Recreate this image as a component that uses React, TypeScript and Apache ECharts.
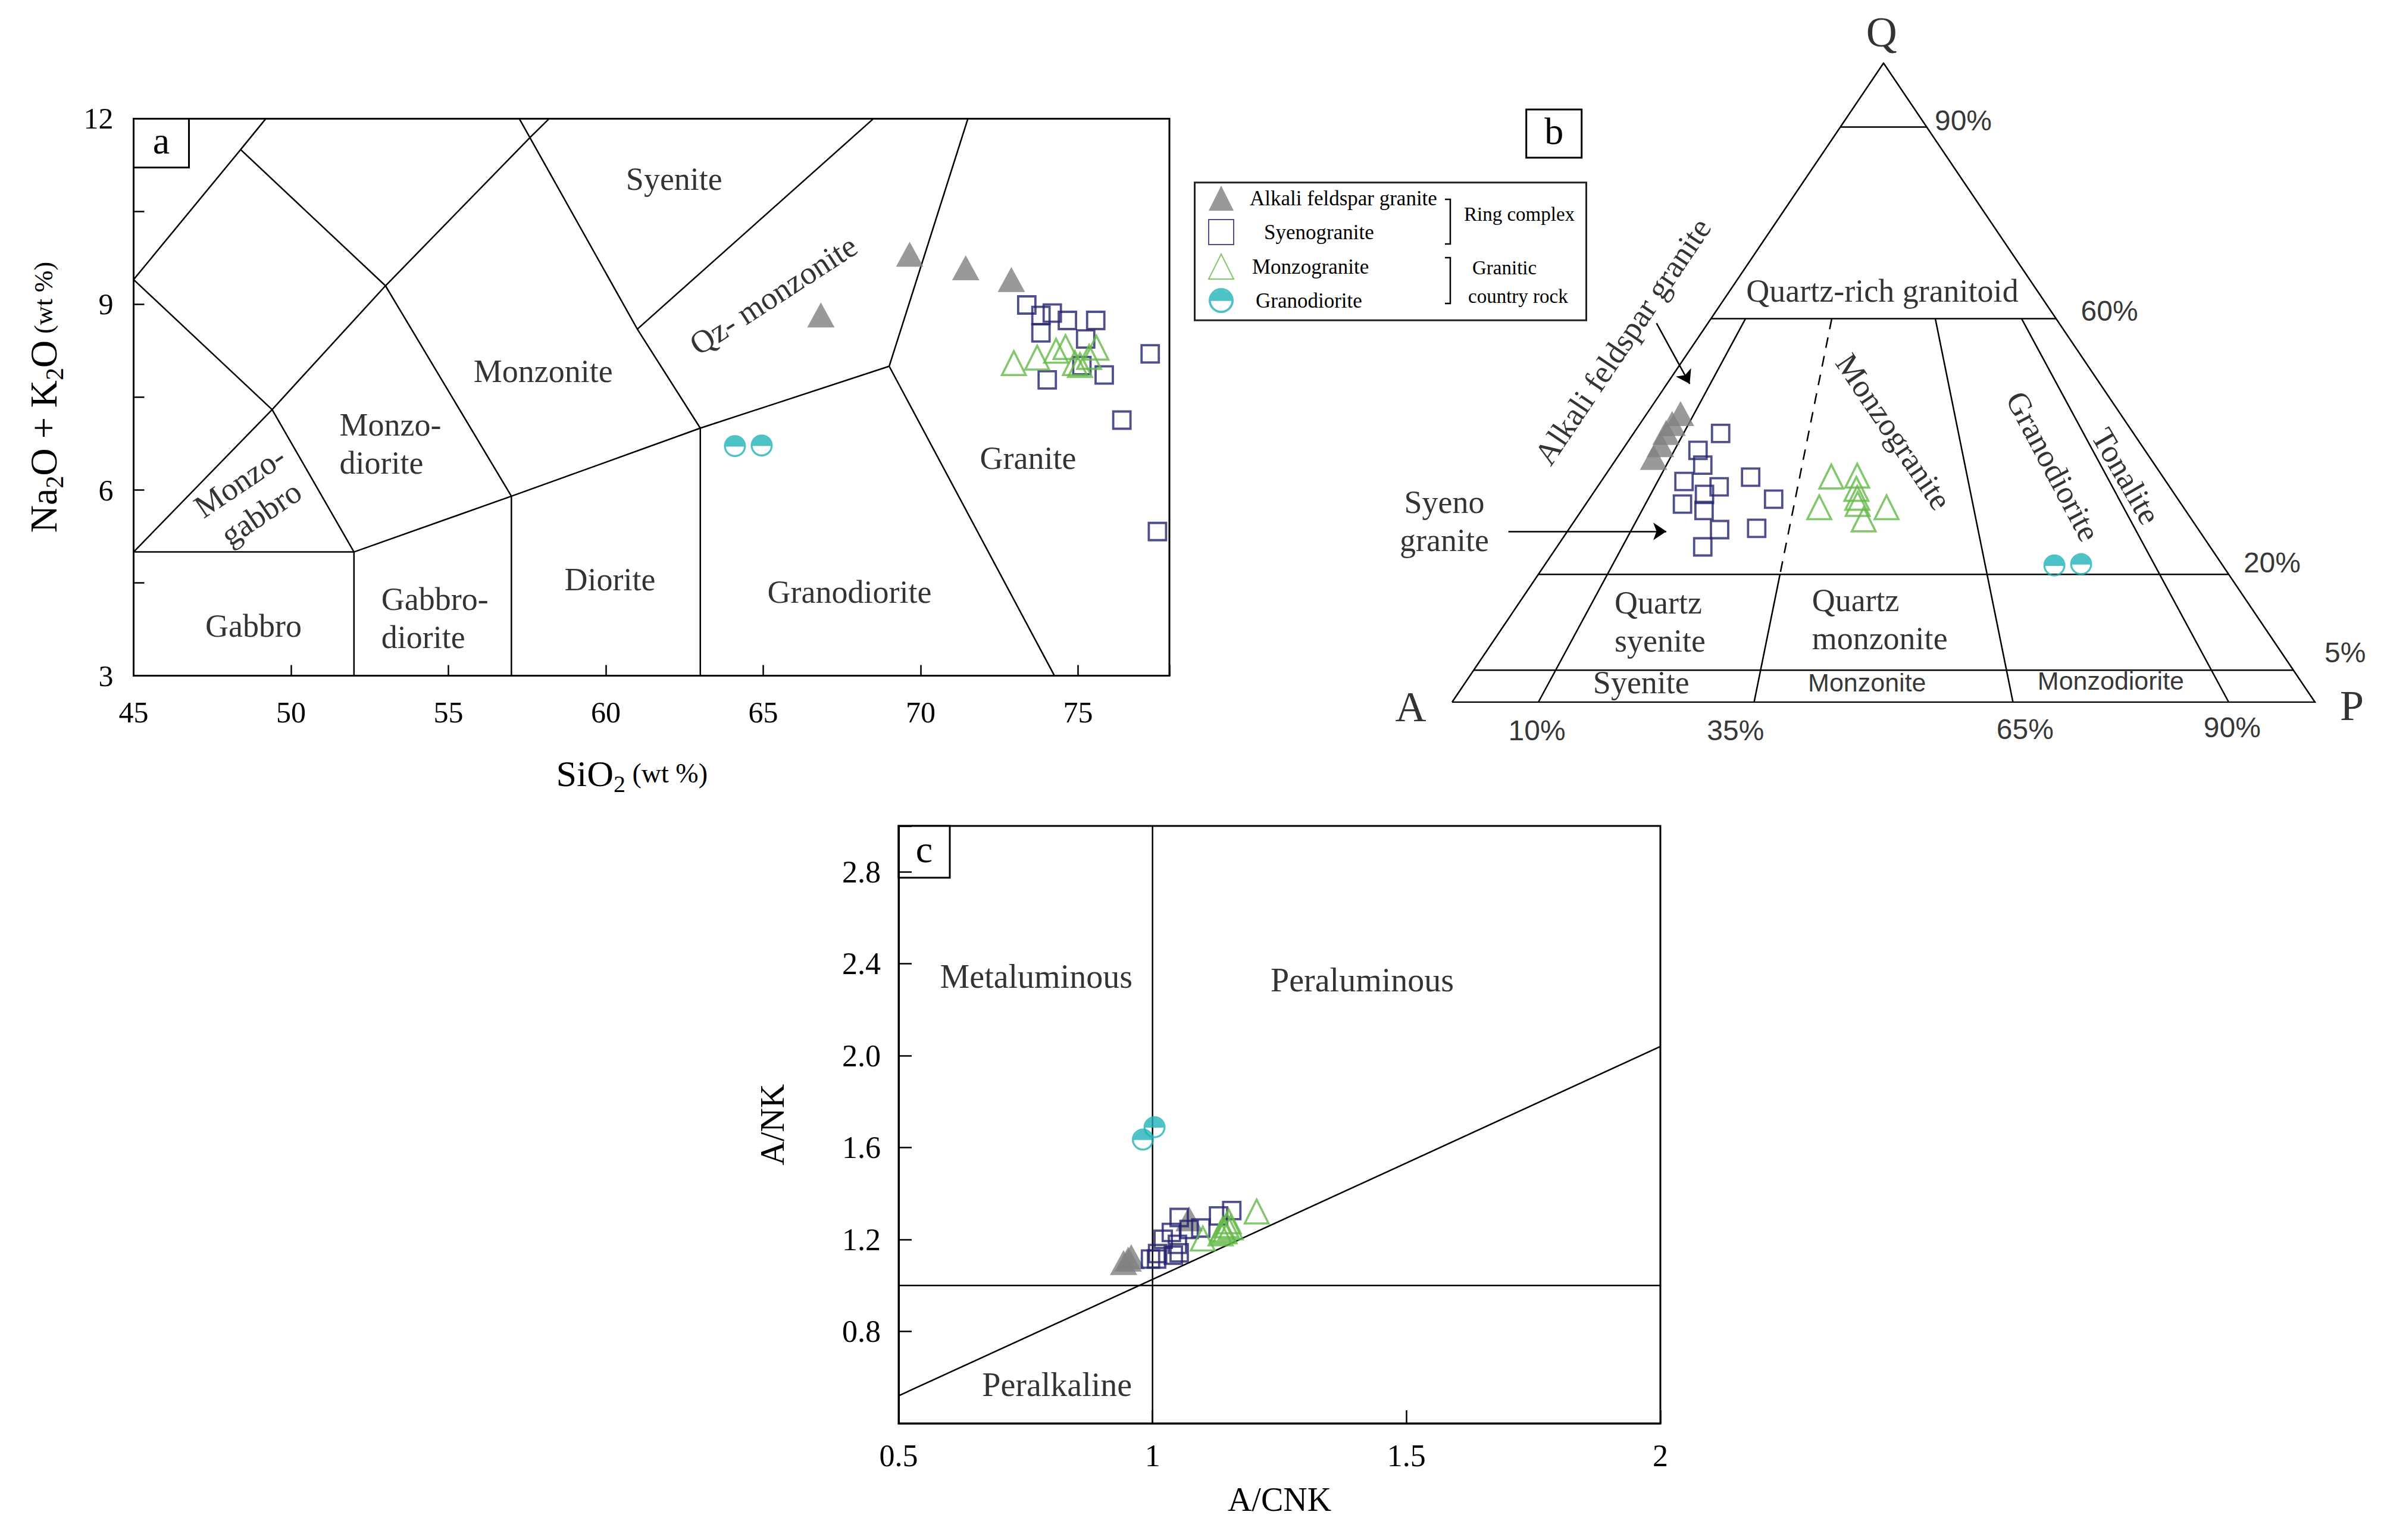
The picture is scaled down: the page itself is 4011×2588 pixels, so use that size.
import React, { useEffect, useRef } from "react";
import * as echarts from "echarts";

const SERIF = "Liberation Serif";
const SANS = "Liberation Sans";
const GRAY = "#7f7f7f";
const NAVY = "#23236f";
const GREEN = "#63b946";
const CYAN = "#1fb3b8";

const groupNames = ["Alkali feldspar granite", "Syenogranite", "Monzogranite", "Granodiorite"];

// ---------- a: TAS diagram [SiO2 wt%, Na2O+K2O wt%] ----------
const tasAlkaliFeldsparGranite = [[66.83, 8.83], [69.65, 9.81], [71.43, 9.59], [72.88, 9.4]];
const tasSyenogranite = [
  [73.37, 8.99], [73.82, 8.82], [74.18, 8.86], [73.82, 8.54], [74.66, 8.74], [75.56, 8.74], [75.24, 8.44],
  [75.12, 8.01], [75.83, 7.86], [74.02, 7.78], [77.29, 8.2], [76.39, 7.13], [77.52, 5.33],
];
const tasMonzogranite = [
  [72.96, 8.05], [73.7, 8.14], [74.3, 8.25], [74.6, 8.31], [74.9, 8.05], [75.06, 8.02], [75.58, 8.3], [75.35, 8.15],
];
const tasGranodiorite = [[64.1, 6.71], [64.95, 6.72]];
const tasBoundaries = [
  [[45, 9.4], [48.4, 11.5], [49.2, 12]],
  [[48.4, 11.5], [53, 9.3]],
  [[45, 9.4], [49.4, 7.3]],
  [[45, 5], [49.4, 7.3], [53, 9.3], [57.6, 11.7], [58.2, 12]],
  [[49.4, 7.3], [52, 5]],
  [[45, 5], [52, 5], [57, 5.9], [63, 7], [69, 8]],
  [[52, 3], [52, 5]],
  [[57, 3], [57, 5.9]],
  [[53, 9.3], [57, 5.9]],
  [[57.25, 12], [61, 8.6], [63, 7]],
  [[61, 8.6], [68.5, 12]],
  [[63, 3], [63, 7]],
  [[69, 8], [71.5, 12]],
  [[69, 8], [74.25, 3]],
];
const tasXTicks = [45, 50, 55, 60, 65, 70, 75];
const tasYTicks = [3, 6, 9, 12];
const tasFields = [
  "Gabbro", "Gabbro-\ndiorite", "Monzo-\ndiorite", "Monzo-\ngabbro", "Monzonite",
  "Syenite", "Qz- monzonite", "Diorite", "Granodiorite", "Granite",
];

// ---------- b: QAP modal data [Q, A, P] ----------
const qapAlkaliFeldsparGranite = [[45.2, 51.0, 3.9], [43.6, 52.7, 3.7], [42.2, 54.1, 3.7], [40.3, 55.7, 4.0], [38.3, 57.5, 4.2]];
const qapSyenogranite = [
  [42.1, 47.9, 10.1], [39.4, 51.8, 8.8], [37.1, 52.4, 10.5], [34.5, 55.8, 9.6], [33.7, 52.2, 14.1],
  [35.2, 47.8, 17.0], [32.5, 54.5, 13.0], [31.0, 57.8, 11.2], [30.0, 55.8, 14.2], [31.8, 46.9, 21.4],
  [27.0, 55.5, 17.5], [27.2, 51.1, 21.7], [24.3, 58.8, 16.9],
];
const qapMonzogranite = [
  [35.3, 38.4, 26.3], [35.4, 35.3, 29.2], [30.5, 42.2, 27.3], [33.4, 36.5, 30.2], [32.0, 37.1, 31.0],
  [31.0, 37.5, 31.5], [30.5, 34.4, 35.1], [28.6, 38.0, 33.4],
];
const qapGranodiorite = [[21.4, 19.5, 59.1], [21.6, 16.3, 62.1]];
const qLevels = [90, 60, 20, 5]; // Q %
const apRatios = [10, 35, 65, 90]; // 100*P/(A+P)
const qapFields = [
  "Quartz-rich granitoid", "Alkali feldspar granite", "Syeno\ngranite", "Monzogranite", "Granodiorite",
  "Tonalite", "Quartz\nsyenite", "Quartz\nmonzonite", "Syenite", "Monzonite", "Monzodiorite",
];

// ---------- c: A/CNK vs A/NK ----------
const acnkAlkaliFeldsparGranite = [[0.943, 1.1], [0.952, 1.115], [0.958, 1.125], [1.072, 1.29]];
const acnkSyenogranite = [
  [1.0525, 1.296], [1.13, 1.303], [1.156, 1.326], [1.095, 1.25], [1.037, 1.231], [1.021, 1.201], [1.049, 1.179],
  [1.0525, 1.142], [1.01, 1.139], [0.996, 1.115], [1.008, 1.115], [1.041, 1.132], [1.072, 1.244],
];
const acnkMonzogranite = [
  [1.099, 1.204], [1.205, 1.322], [1.138, 1.244], [1.146, 1.262], [1.142, 1.236], [1.15, 1.279], [1.154, 1.253], [1.134, 1.227],
];
const acnkGranodiorite = [[0.981, 1.635], [1.004, 1.689]];
const acnkBoundaries = [
  [[1, 0.4], [1, 3.0]],
  [[0.5, 1], [2, 1]],
  [[0.5, 0.52], [2, 2.04]],
];
const acnkFields = ["Metaluminous", "Peraluminous", "Peralkaline"];

// ---------- helpers ----------
const tern = (q: number, a: number, p: number) => {
  const s = q + a + p;
  const Q = q / s;
  const P = p / s;
  return [P + Q / 2, Q];
};
const ternAt = (qPct: number, rPct: number) => {
  const q = qPct / 100;
  const r = rPct / 100;
  return [(1 - q) * r + q / 2, q];
};

const halfCircle =
  "path://M50,0 A50,50 0 1,1 50,100 A50,50 0 1,1 50,0 Z M50,9 A41,41 0 1,0 50,91 A41,41 0 1,0 50,9 Z M9.05,52 A41,41 0 1,1 90.95,52 Z";

const groupStyles: any[] = [
  { symbol: "triangle", size: [46, 42], itemStyle: { color: GRAY } },
  { symbol: "rect", size: 29, itemStyle: { color: "rgba(0,0,0,0)", borderColor: NAVY, borderWidth: 3.8 } },
  { symbol: "triangle", size: [40, 40], itemStyle: { color: "rgba(0,0,0,0)", borderColor: GREEN, borderWidth: 3.6 } },
  { symbol: halfCircle, size: 37, itemStyle: { color: CYAN } },
];

function pointSeries(idx: number, groups: number[][][]) {
  return groups.map((data, g) => ({
    type: "scatter",
    name: groupNames[g],
    xAxisIndex: idx,
    yAxisIndex: idx,
    symbol: groupStyles[g].symbol,
    symbolSize: groupStyles[g].size,
    itemStyle: groupStyles[g].itemStyle,
    silent: true,
    z: 5 + g,
    data,
  }));
}

function lineSeries(idx: number, polylines: number[][][], dashed = false) {
  return {
    type: "lines",
    coordinateSystem: "cartesian2d",
    xAxisIndex: idx,
    yAxisIndex: idx,
    polyline: true,
    silent: true,
    z: 3,
    lineStyle: { color: "#000", width: 2.5, opacity: 1, type: dashed ? [18, 14] : "solid" },
    data: polylines.map((c) => ({ coords: c })),
  };
}

function arrowSeries(idx: number, segs: number[][][]) {
  return {
    type: "lines",
    coordinateSystem: "cartesian2d",
    xAxisIndex: idx,
    yAxisIndex: idx,
    silent: true,
    z: 3,
    symbol: ["none", "arrow"],
    symbolSize: 22,
    lineStyle: { color: "#000", width: 2.5, opacity: 1 },
    data: segs.map((c) => ({ coords: c })),
  };
}

function labelSeries(idx: number, items: any[], fontSize: number) {
  return {
    type: "scatter",
    xAxisIndex: idx,
    yAxisIndex: idx,
    symbolSize: 1,
    silent: true,
    clip: false,
    z: 4,
    itemStyle: { color: "rgba(0,0,0,0)" },
    label: { show: true, position: "inside", color: "#000", fontFamily: SERIF, fontSize, lineHeight: 64 },
    data: items.map((it) => ({
      value: [it.x, it.y],
      label: {
        formatter: it.text,
        rotate: it.rotate || 0,
        align: it.align || "center",
        fontSize: it.size || fontSize,
        fontFamily: it.family || SERIF,
      },
    })),
  };
}

function panelBox(x: number, y: number, w: number, h: number, t: string) {
  return {
    type: "group",
    z: 20,
    children: [
      { type: "rect", shape: { x, y, width: w, height: h }, style: { fill: "#fff", stroke: "#000", lineWidth: 3 } },
      {
        type: "text",
        x: x + w / 2,
        y: y + h / 2 - 4,
        style: { text: t, fontSize: 64, fontFamily: SERIF, fill: "#000", align: "center", verticalAlign: "middle" },
      },
    ],
  };
}

function buildOption(): any {
  // --- panel a annotations (data coords) ---
  const tasLabels = [
    { text: tasFields[0], x: 48.81, y: 3.8 },
    { text: tasFields[1], x: 52.87, y: 3.93, align: "left" },
    { text: tasFields[2], x: 51.54, y: 6.745, align: "left" },
    { text: tasFields[3], x: 48.71, y: 5.88, rotate: 34 },
    { text: tasFields[4], x: 58.01, y: 7.92 },
    { text: tasFields[5], x: 62.17, y: 11.02 },
    { text: tasFields[6], x: 65.32, y: 9.15, rotate: 33 },
    { text: tasFields[7], x: 60.13, y: 4.55 },
    { text: tasFields[8], x: 67.74, y: 4.35 },
    { text: tasFields[9], x: 73.41, y: 6.51 },
  ];

  // --- panel b geometry ---
  const triOutline = [[0, 0], [1, 0], [0.5, 1], [0, 0]];
  const qapSolid: number[][][] = [triOutline];
  qLevels.forEach((q) => qapSolid.push([ternAt(q, 0), ternAt(q, 100)]));
  const qapDashed: number[][][] = [];
  apRatios.forEach((r) => {
    if (r === 35) {
      qapDashed.push([ternAt(60, r), ternAt(20, r)]);
      qapSolid.push([ternAt(20, r), ternAt(0, r)]);
    } else {
      qapSolid.push([ternAt(60, r), ternAt(0, r)]);
    }
  });
  const qapArrows = [
    [[0.2369, 0.593], [0.2754, 0.4981]],
    [[0.0652, 0.2672], [0.2483, 0.2672]],
  ];
  const qapLabels = [
    { text: "Q", x: 0.4978, y: 1.0485, size: 72 },
    { text: "A", x: -0.048, y: -0.0076, size: 72 },
    { text: "P", x: 1.0428, y: -0.0053, size: 72 },
    { text: qapFields[0], x: 0.4986, y: 0.6434 },
    { text: qapFields[1], x: 0.1977, y: 0.5645, rotate: 56 },
    { text: qapFields[2], x: -0.009, y: 0.283 },
    { text: qapFields[3], x: 0.5117, y: 0.4232, rotate: -56 },
    { text: qapFields[4], x: 0.6964, y: 0.3691, rotate: -62 },
    { text: qapFields[5], x: 0.781, y: 0.3536, rotate: -60 },
    { text: qapFields[6], x: 0.1883, y: 0.1259, align: "left" },
    { text: qapFields[7], x: 0.417, y: 0.1298, align: "left" },
    { text: qapFields[8], x: 0.2192, y: 0.0309 },
    { text: qapFields[9], x: 0.4809, y: 0.0309, size: 43, family: SANS },
    { text: qapFields[10], x: 0.7634, y: 0.0332, size: 43, family: SANS },
    { text: `${qLevels[0]}%`, x: 0.5924, y: 0.9097, size: 48, family: SANS },
    { text: `${qLevels[1]}%`, x: 0.7618, y: 0.6123, size: 48, family: SANS },
    { text: `${qLevels[2]}%`, x: 0.9503, y: 0.2185, size: 48, family: SANS },
    { text: `${qLevels[3]}%`, x: 1.035, y: 0.078, size: 48, family: SANS },
    { text: `${apRatios[0]}%`, x: 0.0983, y: -0.044, size: 48, family: SANS },
    { text: `${apRatios[1]}%`, x: 0.3285, y: -0.044, size: 48, family: SANS },
    { text: `${apRatios[2]}%`, x: 0.664, y: -0.042, size: 48, family: SANS },
    { text: `${apRatios[3]}%`, x: 0.904, y: -0.04, size: 48, family: SANS },
  ];
  const toTern = (arr: number[][]) => arr.map((d) => tern(d[0], d[1], d[2]));

  // --- panel c annotations ---
  const acnkLabels = [
    { text: acnkFields[0], x: 0.771, y: 2.344 },
    { text: acnkFields[1], x: 1.413, y: 2.33 },
    { text: acnkFields[2], x: 0.812, y: 0.569 },
  ];

  const axisLine = { show: true, lineStyle: { color: "#000", width: 3 } };
  const tick = (len: number) => ({ show: true, inside: true, length: len, lineStyle: { color: "#000", width: 2.5 } });
  const lbl = (size: number, margin: number, formatter: any) => ({
    show: true, color: "#000", fontFamily: SERIF, fontSize: size, margin, formatter,
  });

  return {
    animation: false,
    backgroundColor: "#fff",
    grid: [
      { left: 224.5, top: 199.4, width: 1740.5, height: 936.2, show: true, borderColor: "#000", borderWidth: 3, backgroundColor: "transparent", outerBoundsMode: "none" },
      { left: 2440, top: 106, width: 1450, height: 1074, show: false, outerBoundsMode: "none" },
      { left: 1510, top: 1388, width: 1280, height: 1004, show: true, borderColor: "#000", borderWidth: 3, backgroundColor: "transparent", outerBoundsMode: "none" },
    ],
    xAxis: [
      {
        type: "value", gridIndex: 0, min: 45, max: 77.9, interval: 5,
        axisLine, axisTick: tick(18), splitLine: { show: false },
        axisLabel: lbl(50, 36, (v: number) => (tasXTicks.includes(v) ? String(v) : "")),
        name: "{m|SiO}{s|2}{w| (wt %)}", nameLocation: "middle", nameGap: 126,
        nameTextStyle: {
          padding: [0, 66, 0, 0],
          rich: {
            m: { fontFamily: SERIF, fontSize: 62, color: "#000" },
            s: { fontFamily: SERIF, fontSize: 40, color: "#000", padding: [36, 0, 0, 0] },
            w: { fontFamily: SERIF, fontSize: 46, color: "#000" },
          },
        },
      },
      { type: "value", gridIndex: 1, min: 0, max: 1, show: false },
      {
        type: "value", gridIndex: 2, min: 0.5, max: 2, interval: 0.5,
        axisLine, axisTick: tick(22), splitLine: { show: false },
        axisLabel: lbl(52, 28, (v: number) => String(v)),
        name: "A/CNK", nameLocation: "middle", nameGap: 100,
        nameTextStyle: { fontFamily: SERIF, fontSize: 56, color: "#000" },
      },
    ],
    yAxis: [
      {
        type: "value", gridIndex: 0, min: 3, max: 12, interval: 1.5,
        axisLine, axisTick: tick(18), splitLine: { show: false },
        axisLabel: lbl(50, 34, (v: number) => (tasYTicks.includes(v) ? String(v) : "")),
        name: "{m|Na}{s|2}{m|O + K}{s|2}{m|O}{w| (wt %)}", nameLocation: "middle", nameRotate: 90, nameGap: 112,
        nameTextStyle: {
          rich: {
            m: { fontFamily: SERIF, fontSize: 64, color: "#000" },
            s: { fontFamily: SERIF, fontSize: 42, color: "#000", padding: [36, 0, 0, 0] },
            w: { fontFamily: SERIF, fontSize: 44, color: "#000" },
          },
        },
      },
      { type: "value", gridIndex: 1, min: 0, max: 1, show: false },
      {
        type: "value", gridIndex: 2, min: 0.4, max: 3.0, interval: 0.4,
        axisLine, axisTick: tick(22), splitLine: { show: false },
        axisLabel: lbl(52, 30, (v: number) => (v < 0.6 || v > 2.9 ? "" : v.toFixed(1))),
        name: "A/NK", nameLocation: "middle", nameRotate: 90, nameGap: 184,
        nameTextStyle: { fontFamily: SERIF, fontSize: 56, color: "#000" },
      },
    ],
    legend: {
      orient: "vertical", left: 2030, top: 312, padding: 0, itemGap: 14, itemWidth: 42, itemHeight: 42,
      selectedMode: false,
      textStyle: { fontFamily: SERIF, fontSize: 35, color: "#000" },
      data: [
        { name: groupNames[0], textStyle: { padding: [0, 0, 0, 22] } },
        { name: groupNames[1], textStyle: { padding: [0, 0, 0, 46] } },
        { name: groupNames[2], textStyle: { padding: [0, 0, 0, 26] } },
        { name: groupNames[3], textStyle: { padding: [0, 0, 0, 32] } },
      ],
    },
    graphic: {
      elements: [
        panelBox(224.5, 199.4, 93, 82, "a"),
        panelBox(2564.7, 184, 93, 81, "b"),
        panelBox(1510, 1388, 86, 87, "c"),
        { type: "rect", z: 1, shape: { x: 2007.5, y: 306.7, width: 658, height: 231.6 }, style: { fill: "none", stroke: "#222", lineWidth: 3 } },
        { type: "polyline", shape: { points: [[2428, 335], [2437, 335], [2437, 410], [2428, 410]] }, style: { stroke: "#000", lineWidth: 2.5, fill: "none" } },
        { type: "polyline", shape: { points: [[2428, 433], [2437, 433], [2437, 510], [2428, 510]] }, style: { stroke: "#000", lineWidth: 2.5, fill: "none" } },
        { type: "text", x: 2460, y: 360, style: { text: "Ring complex", fontSize: 33, fontFamily: SERIF, fill: "#000", align: "left", verticalAlign: "middle" } },
        { type: "text", x: 2474, y: 450, style: { text: "Granitic", fontSize: 33, fontFamily: SERIF, fill: "#000", align: "left", verticalAlign: "middle" } },
        { type: "text", x: 2467, y: 498, style: { text: "country rock", fontSize: 33, fontFamily: SERIF, fill: "#000", align: "left", verticalAlign: "middle" } },
      ],
    },
    series: [
      // panel a
      lineSeries(0, tasBoundaries),
      labelSeries(0, tasLabels, 54),
      ...pointSeries(0, [tasAlkaliFeldsparGranite, tasSyenogranite, tasMonzogranite, tasGranodiorite]),
      // panel b
      lineSeries(1, qapSolid),
      lineSeries(1, qapDashed, true),
      arrowSeries(1, qapArrows),
      labelSeries(1, qapLabels, 54),
      ...pointSeries(1, [
        toTern(qapAlkaliFeldsparGranite), toTern(qapSyenogranite), toTern(qapMonzogranite), toTern(qapGranodiorite),
      ]),
      // panel c
      lineSeries(2, acnkBoundaries),
      labelSeries(2, acnkLabels, 56),
      ...pointSeries(2, [acnkAlkaliFeldsparGranite, acnkSyenogranite, acnkMonzogranite, acnkGranodiorite]),
    ],
  };
}

export default function App() {
  const ref = useRef<HTMLDivElement>(null);
  useEffect(() => {
    document.body.style.margin = "0";
    const chart = echarts.init(ref.current as HTMLDivElement, null, { renderer: "svg" });
    chart.setOption(buildOption());
    return () => chart.dispose();
  }, []);
  return <div ref={ref} style={{ width: 4011, height: 2588, background: "#fff" }} />;
}
